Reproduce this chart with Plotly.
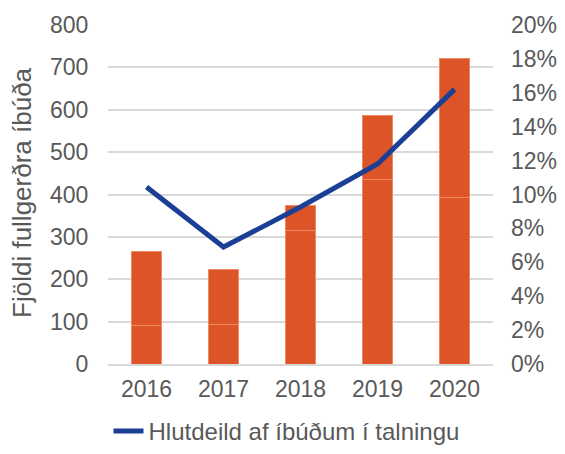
import plotly.graph_objects as go

years = ["2016", "2017", "2018", "2019", "2020"]
bar_lower = [90, 93, 315, 436, 394]
bar_upper = [176, 129, 59, 150, 328]
share = [0.1044, 0.069, 0.0926, 0.118, 0.162]

orange = "#DC5427"
blue = "#1B3F94"
txt = "#595959"

fig = go.Figure()
for seg in (bar_lower, bar_upper):
    fig.add_trace(go.Bar(x=years, y=seg, marker=dict(color=orange, line=dict(color="#EE8A62", width=1)),
                         showlegend=False, hoverinfo="skip"))
fig.add_trace(go.Scatter(x=years, y=share, mode="lines", yaxis="y2",
                         line=dict(color=blue, width=5),
                         name="Hlutdeild af íbúðum í talningu"))

# page has an 8px body margin, so the figure is sized/offset to compensate
fig.update_layout(
    width=557, height=446,
    margin=dict(l=100, r=72, t=17, b=90),
    barmode="stack", bargap=0.6,
    plot_bgcolor="white", paper_bgcolor="white",
    font=dict(family="Liberation Sans, Arial", size=23, color=txt),
    xaxis=dict(showgrid=False, showline=True, linecolor="#D9D9D9", linewidth=2, ticks="",
               automargin=False, tickfont=dict(size=23, color=txt), ticklabelstandoff=3),
    yaxis=dict(range=[0, 800], dtick=100, showgrid=True, gridcolor="#D9D9D9", gridwidth=2,
               zeroline=False, ticks="outside", ticklen=14, tickcolor="rgba(0,0,0,0)",
               tickfont=dict(size=23, color=txt), automargin=False),
    yaxis2=dict(range=[0, 0.2], dtick=0.02, tickformat=".0%", overlaying="y", side="right",
                showgrid=False, zeroline=False, ticks="", tickfont=dict(size=23, color=txt),
                automargin=False, ticklabelstandoff=17),
    legend=dict(orientation="h", xref="container", yref="container", x=0.5, xanchor="center",
                y=0.0, yanchor="bottom", font=dict(size=24, color=txt)),
    annotations=[dict(text="Fjöldi fullgerðra íbúða", textangle=-90, xref="paper", yref="paper",
                      x=-0.223, y=0.505, xanchor="center", yanchor="middle", showarrow=False,
                      font=dict(size=26, color=txt))],
)

fig.write_html("out.html")
